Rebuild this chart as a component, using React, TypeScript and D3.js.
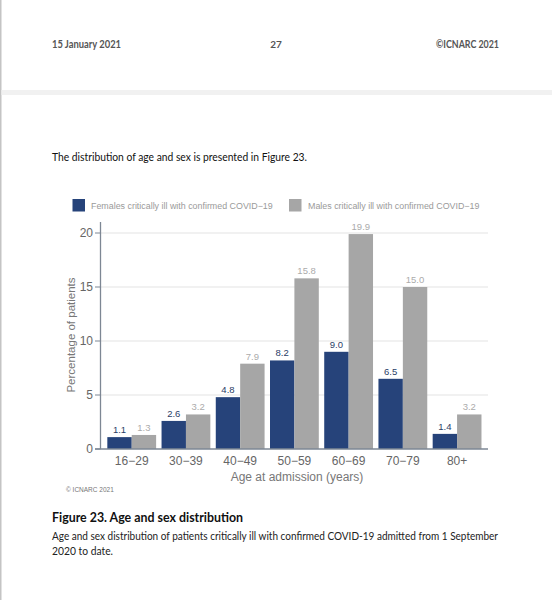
import React from "react";
import * as d3 from "d3";

const categories = ["16−29", "30−39", "40−49", "50−59", "60−69", "70−79", "80+"];
const females = [1.1, 2.6, 4.8, 8.2, 9.0, 6.5, 1.4];
const males = [1.3, 3.2, 7.9, 15.8, 19.9, 15.0, 3.2];
const yTicks = [0, 5, 10, 15, 20];
const seriesNames = [
  "Females critically ill with confirmed COVID−19",
  "Males critically ill with confirmed COVID−19",
];

const W = 552;
const H = 600;
const FEMALE = "#26437a";
const MALE = "#a6a6a6";
const CHART_FONT = "'Liberation Sans', Arial, sans-serif";
const DOC_FONT = "Lato, 'Open Sans', sans-serif";

export default function App() {
  const x = d3.scaleBand<string>().domain(categories).range([101.9, 486.9]).paddingInner(0.1).paddingOuter(0.1);
  const y = d3.scaleLinear().domain([0, 20]).range([449, 233]);
  const bw = x.bandwidth() / 2;
  const axisLeft = 100.5;
  const axisRight = 488;
  const fit = { lengthAdjust: "spacingAndGlyphs" as const };

  return (
    <svg width={W} height={H} style={{ position: "absolute", left: 0, top: 0, background: "#fff" }}>
      <rect x={0} y={0} width={W} height={H} fill="#fff" />
      <rect x={0} y={0} width={1.5} height={H} fill="#c4c4c4" />
      <rect x={1.5} y={90} width={W} height={5} fill="#f1f1f1" />

      <g fontFamily={DOC_FONT} fontWeight={700} fontSize={11} fill="#555">
        <text x={52} y={47.5} textLength={69} {...fit}>15 January 2021</text>
        <text x={276} y={47.5} textAnchor="middle" fontSize={10}>27</text>
        <text x={436} y={47.5} textLength={63} {...fit}>©ICNARC 2021</text>
      </g>

      <text x={52} y={161} fontFamily={DOC_FONT} fontSize={10.9} fill="#111" textLength={255} {...fit}>
        The distribution of age and sex is presented in Figure 23.
      </text>

      {/* legend */}
      <g fontFamily={CHART_FONT} fontSize={8.9} fill="#9a9a9a">
        <rect x={72.5} y={199} width={12.5} height={12.5} fill={FEMALE} />
        <text x={91} y={208.5}>{seriesNames[0]}</text>
        <rect x={289} y={199} width={12.5} height={12.5} fill={MALE} />
        <text x={308} y={208.5}>{seriesNames[1]}</text>
      </g>

      {/* gridlines */}
      {yTicks.filter((t) => t > 0).map((t) => (
        <line key={t} x1={axisLeft} x2={axisRight} y1={y(t)} y2={y(t)} stroke="#e3e3e3" strokeWidth={1} />
      ))}

      {/* bars */}
      {categories.map((c, i) => {
        const x0 = x(c)!;
        return (
          <g key={c}>
            <rect x={x0} y={y(females[i])} width={bw} height={y(0) - y(females[i])} fill={FEMALE} />
            <rect x={x0 + bw} y={y(males[i])} width={bw} height={y(0) - y(males[i])} fill={MALE} />
            <text x={x0 + bw / 2} y={y(females[i]) - 4} textAnchor="middle" fontFamily={CHART_FONT} fontSize={9.5} fill="#2a3d66">
              {females[i].toFixed(1)}
            </text>
            <text x={x0 + bw * 1.5} y={y(males[i]) - 4} textAnchor="middle" fontFamily={CHART_FONT} fontSize={9.5} fill="#ababab">
              {males[i].toFixed(1)}
            </text>
          </g>
        );
      })}

      {/* axes */}
      <line x1={axisLeft} x2={axisLeft} y1={222} y2={449} stroke="#7d8794" strokeWidth={1.3} />
      <line x1={95} x2={axisRight} y1={449} y2={449} stroke="#7d8794" strokeWidth={1.3} />
      {yTicks.map((t) => (
        <g key={t}>
          <line x1={95} x2={axisLeft} y1={y(t)} y2={y(t)} stroke="#7d8794" strokeWidth={1} />
          <text x={93} y={y(t) + 4.2} textAnchor="end" fontFamily={CHART_FONT} fontSize={12} fill="#666">
            {t}
          </text>
        </g>
      ))}
      {categories.map((c) => (
        <text key={c} x={x(c)! + x.bandwidth() / 2} y={465} textAnchor="middle" fontFamily={CHART_FONT} fontSize={12} fill="#666">
          {c}
        </text>
      ))}
      <text x={297} y={481} textAnchor="middle" fontFamily={CHART_FONT} fontSize={12} fill="#777">
        Age at admission (years)
      </text>
      <text transform={`translate(74.5,335) rotate(-90)`} textAnchor="middle" fontFamily={CHART_FONT} fontSize={11.5} fill="#777">
        Percentage of patients
      </text>
      <text x={66} y={492} fontFamily={CHART_FONT} fontSize={6.5} fill="#777">© ICNARC 2021</text>

      <text x={52} y={522} fontFamily={DOC_FONT} fontWeight={700} fontSize={12.8} fill="#111" textLength={191} {...fit}>
        Figure 23.  Age and sex distribution
      </text>
      <g fontFamily={DOC_FONT} fontSize={10.5} fill="#222">
        <text x={52} y={540} textLength={446} {...fit}>
          Age and sex distribution of patients critically ill with confirmed COVID-19 admitted from 1 September
        </text>
        <text x={52} y={555} textLength={61} {...fit}>2020 to date.</text>
      </g>
    </svg>
  );
}
